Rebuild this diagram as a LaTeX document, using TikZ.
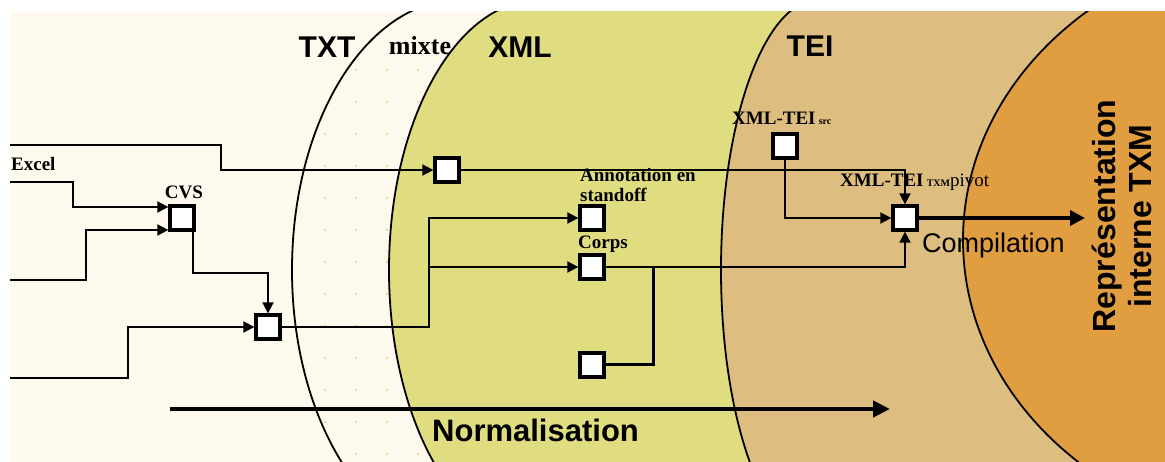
\documentclass[tikz,border=0pt]{standalone}
\usepackage{fontspec}
\setmainfont{Liberation Serif}
\newfontfamily\arialf{Liberation Sans}
\usetikzlibrary{arrows.meta}
\definecolor{cream}{RGB}{254,249,237}
\definecolor{xmlc}{RGB}{223,221,128}
\definecolor{teic}{RGB}{222,190,128}
\definecolor{orangec}{RGB}{225,158,64}
\definecolor{dotc}{RGB}{226,224,140}
\def\cA{(459,0) arc[start angle=90, end angle=270, x radius=167pt, y radius=270pt]}
\def\cB{(539,0) arc[start angle=90, end angle=270, x radius=150pt, y radius=270pt]}
\def\cC{(818,0) arc[start angle=90, end angle=270, x radius=97pt, y radius=270pt]}
\def\cD{(1315,-60) arc[start angle=90, end angle=270, x radius=352pt, y radius=300pt]}
\tikzset{
  box/.style={draw, line width=3.3pt, fill=white, minimum size=24pt, inner sep=0pt},
  conn/.style={line width=1.8pt},
  arr/.style={conn, -{Triangle[length=11pt,width=11pt]}},
  big/.style={font={\arialf\bfseries\fontsize{30}{36}\selectfont}},
  small/.style={font={\bfseries\fontsize{19}{22}\selectfont}, inner sep=0pt},
  curve/.style={line width=1.8pt, black}
}
\begin{document}
\begin{tikzpicture}[x=1pt,y=-1pt]
\useasboundingbox (0,0) rectangle (1165,462);
\fill[white] (0,0) rectangle (1165,462);
\begin{scope}
  \clip (10,12) rectangle (1165,462);
  \fill[cream] (10,12) rectangle (1165,462);
  \begin{scope}
    \clip \cA -- (1400,540) -- (1400,-60) -- cycle;
    \foreach \x in {325,356,387,418,449}
      \foreach \y in {70,102,...,470}
        \fill[dotc] (\x,\y) circle (1.3pt);
  \end{scope}
  \fill[xmlc] \cB -- (1400,540) -- (1400,-60) -- cycle;
  \fill[teic] \cC -- (1400,540) -- (1400,-60) -- cycle;
  \fill[orangec] \cD -- (1400,540) -- (1400,-60) -- cycle;
  \draw[curve] \cA;
  \draw[curve] \cB;
  \draw[curve] \cC;
  \draw[curve] \cD;
\end{scope}

% region labels
\node[big, anchor=base, inner sep=0pt] (tTXT) at (327,58) {TXT};
\node[font={\bfseries\fontsize{26}{30}\selectfont}, anchor=base, inner sep=0pt] (tMix) at (420,55) {mixte};
\node[big, anchor=base, inner sep=0pt] (tXML) at (520,58) {XML};
\node[big, anchor=base, inner sep=0pt] (tTEI) at (810,57) {TEI};
\node[font={\arialf\bfseries\fontsize{31}{36}\selectfont}, anchor=base west, inner sep=0pt] (tNorm) at (432,441) {Normalisation};
\node[font={\arialf\fontsize{27}{32}\selectfont}, anchor=base west, inner sep=0pt] (tComp) at (922,253) {Compilation};
\node[font={\arialf\bfseries\fontsize{32}{36}\selectfont}, rotate=90, align=center, inner sep=0pt] (tRep) at (1122,216) {Représentation\\interne TXM};

% boxes
\node[box] (A) at (447,170) {};
\node[box] (B) at (592,218) {};
\node[box] (C) at (592,267) {};
\node[box] (D) at (592,365) {};
\node[box] (CVS) at (182,218) {};
\node[box] (E) at (268,327) {};
\node[box] (src) at (785,146) {};
\node[box] (piv) at (905,218) {};

% small labels
\node[small, anchor=base west] (lExcel) at (11,171) {Excel};
\node[small, anchor=base] (lCVS) at (184,199) {CVS};
\node[small, anchor=base west] (lAnn1) at (580,182) {Annotation en};
\node[small, anchor=base west] (lAnn2) at (580,202) {standoff};
\node[small, anchor=base west] (lCorps) at (578,249) {Corps};
\node[small, anchor=base west] (lSrc) at (732,125) {XML-TEI\,{\fontsize{10}{10}\selectfont src}};
\node[small, anchor=base west] (lPiv) at (840,187) {XML-TEI\,{\fontsize{10}{10}\selectfont TXM}{\mdseries pivot}};

% free ends
\coordinate (in1) at (10,145);
\coordinate (in2) at (10,182);
\coordinate (in3) at (10,280);
\coordinate (in4) at (10,378);
\coordinate (outC) at (1085,218);
\coordinate (nS) at (170,409);
\coordinate (nE) at (890,409);

% connectors
\draw[arr] (in1) -- (221,145) -- (221,170) -- (A.west);
\draw[arr] (A.east) -- (905,170) -- (piv.north);
\draw[arr] (in2) -- (73,182) -- (73,207) -- (CVS.west |- 0,207);
\draw[arr] (in3) -- (86,280) -- (86,230) -- (CVS.west |- 0,230);
\draw[arr] (CVS.south east) ++(-3,0) |- (268,273) -- (E.north);
\draw[arr] (in4) -- (128,378) -- (128,327) -- (E.west);
\draw[arr] (E.east) -- (429,327) -- (429,218) -- (B.west);
\draw[arr] (429,267) -- (C.west);
\draw[arr] (C.east) -- (905,267) -- (piv.south);
\draw[line width=3pt] (D.east) -- (653,365) -- (653,267);
\draw[arr] (src.south) -- (785,218) -- (piv.west);
\draw[line width=4pt, -{Triangle[length=15pt,width=15pt]}] (piv.east) -- (outC);
\draw[line width=4.5pt, -{Triangle[length=17pt,width=16pt]}] (nS) -- (nE);
\end{tikzpicture}
\end{document}
